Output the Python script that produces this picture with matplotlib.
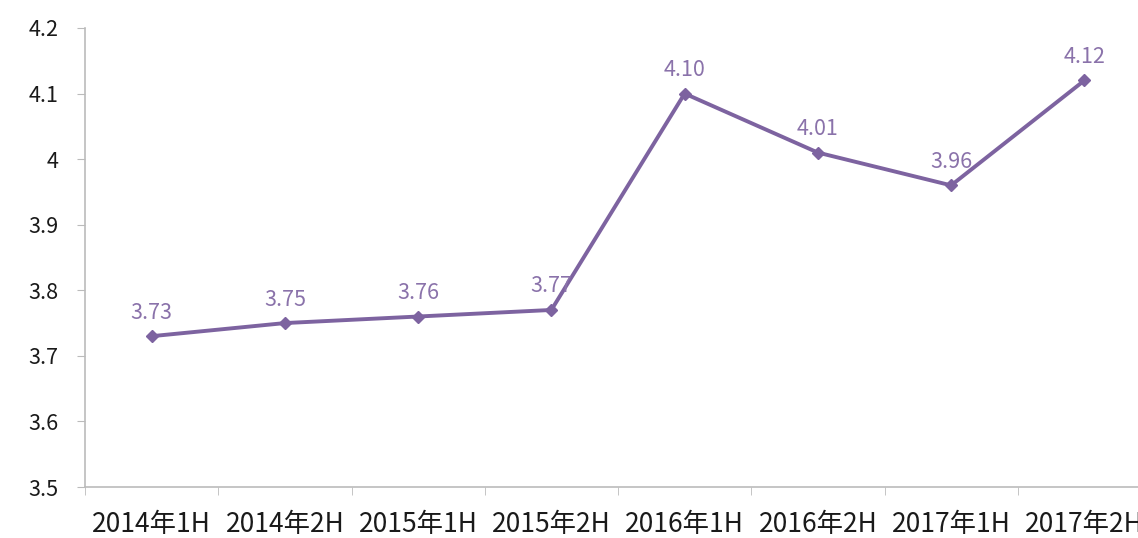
import matplotlib
matplotlib.use("Agg")
import matplotlib.pyplot as plt

plt.rcParams['font.family'] = ['Noto Sans CJK SC', 'DejaVu Sans']

categories = ["2014年1H", "2014年2H", "2015年1H", "2015年2H", "2016年1H", "2016年2H", "2017年1H", "2017年2H"]
values = [3.73, 3.75, 3.76, 3.77, 4.10, 4.01, 3.96, 4.12]
yticks = [3.5, 3.6, 3.7, 3.8, 3.9, 4.0, 4.1, 4.2]
ytick_labels = ["3.5", "3.6", "3.7", "3.8", "3.9", "4", "4.1", "4.2"]

fig = plt.figure(figsize=(11.38, 5.38), dpi=100)
ax = fig.add_axes([85/1138, 1 - 487/538, (1151 - 85)/1138, (487 - 28)/538])

line_color = "#7D63A0"
x = list(range(len(categories)))
ax.plot(x, values, color=line_color, lw=2.8, marker="D", markersize=6, zorder=3)
for xi, v in zip(x, values):
    ax.annotate(f"{v:.2f}", (xi, v), xytext=(0, 9), textcoords="offset points",
                ha="center", va="bottom", fontsize=15.5, color="#8A72AA")

ax.set_xlim(-0.5, len(categories) - 0.5)
ax.set_ylim(3.5, 4.2)
ax.set_yticks(yticks)
ax.set_yticklabels(ytick_labels, fontsize=15.5, color="#1a1a1a")
ax.set_xticks(x)
ax.set_xticklabels(categories, fontsize=19, color="#1a1a1a")
ax.set_xticks([i - 0.5 for i in range(len(categories) + 1)], minor=True)
ax.tick_params(axis="x", which="major", length=0, pad=17)
ax.tick_params(axis="x", which="minor", length=6, color="#BBBBBB", direction="out")
ax.tick_params(axis="y", length=6, color="#BBBBBB", direction="out", pad=13)

for s in ["top", "right"]:
    ax.spines[s].set_visible(False)
for s in ["left", "bottom"]:
    ax.spines[s].set_color("#BBBBBB")
    ax.spines[s].set_linewidth(1.2)

fig.savefig("out.png", dpi=100)
